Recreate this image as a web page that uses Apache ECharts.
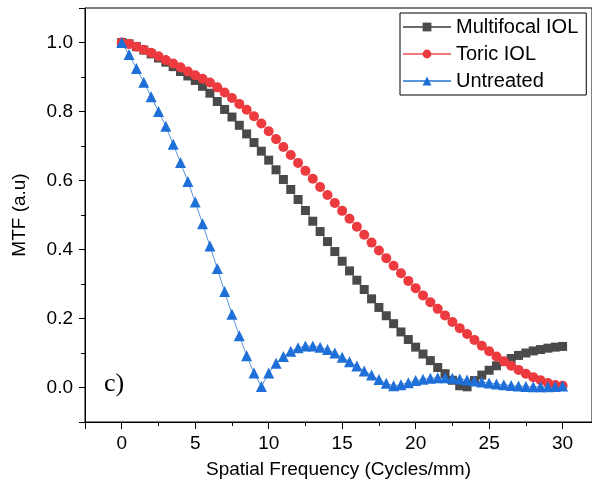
<!DOCTYPE html>
<html>
<head>
<meta charset="utf-8">
<script src="https://cdn.jsdelivr.net/npm/echarts@6/dist/echarts.min.js"></script>
<style>
  html, body { margin: 0; padding: 0; background: #fff; }
  #container { width: 592px; height: 488px; }
</style>
</head>
<body>
<div id="container"></div>
<script>
  // spatial frequency (cycles/mm)
  var freq = [0, 0.5, 1, 1.5, 2, 2.5, 3, 3.5, 4, 4.5, 5, 5.5, 6, 6.5, 7, 7.5, 8, 8.5, 9, 9.5,
    10, 10.5, 11, 11.5, 12, 12.5, 13, 13.5, 14, 14.5, 15, 15.5, 16, 16.5, 17, 17.5, 18, 18.5, 19, 19.5,
    20, 20.5, 21, 21.5, 22, 22.5, 23, 23.5, 24, 24.5, 25, 25.5, 26, 26.5, 27, 27.5, 28, 28.5, 29, 29.5, 30];

  var multifocal = [1.0, 0.996, 0.988, 0.978, 0.967, 0.955, 0.943, 0.93, 0.916, 0.903, 0.89, 0.873, 0.853, 0.829, 0.806, 0.784, 0.76, 0.735, 0.71, 0.685,
    0.659, 0.631, 0.603, 0.574, 0.545, 0.513, 0.482, 0.452, 0.423, 0.394, 0.366, 0.338, 0.311, 0.284, 0.257, 0.232, 0.208, 0.185, 0.161, 0.139,
    0.117, 0.097, 0.078, 0.058, 0.04, 0.021, 0.005, 0.002, 0.02, 0.036, 0.05, 0.063, 0.075, 0.084, 0.093, 0.1, 0.106, 0.11, 0.114, 0.117, 0.119];

  var toric = [1.0, 0.996, 0.988, 0.979, 0.97, 0.96, 0.949, 0.939, 0.928, 0.916, 0.905, 0.895, 0.884, 0.87, 0.855, 0.839, 0.822, 0.805, 0.786, 0.765,
    0.743, 0.72, 0.697, 0.674, 0.651, 0.628, 0.605, 0.581, 0.558, 0.535, 0.512, 0.489, 0.466, 0.443, 0.42, 0.397, 0.375, 0.353, 0.331, 0.309,
    0.288, 0.267, 0.247, 0.228, 0.209, 0.19, 0.172, 0.155, 0.138, 0.121, 0.105, 0.09, 0.076, 0.063, 0.051, 0.04, 0.03, 0.021, 0.013, 0.007, 0.005];

  var untreated = [1.0, 0.965, 0.925, 0.885, 0.843, 0.8, 0.757, 0.705, 0.652, 0.597, 0.538, 0.475, 0.41, 0.345, 0.278, 0.212, 0.15, 0.092, 0.042, 0.003,
    0.042, 0.07, 0.09, 0.105, 0.115, 0.12, 0.12, 0.117, 0.11, 0.1, 0.088, 0.075, 0.062, 0.048, 0.036, 0.023, 0.012, 0.005, 0.008, 0.014,
    0.02, 0.024, 0.027, 0.028, 0.028, 0.027, 0.025, 0.022, 0.019, 0.016, 0.013, 0.01, 0.008, 0.006, 0.004, 0.003, 0.002, 0.002, 0.002, 0.003, 0.004];

  var seriesNames = ['Multifocal IOL', 'Toric IOL', 'Untreated'];

  function pairs(ys) {
    return freq.map(function (x, i) { return [x, ys[i]]; });
  }

  var font = "'Liberation Sans', Arial, sans-serif";
  var dom = document.getElementById('container');
  var myChart = echarts.init(dom, null, {renderer: 'canvas'});

  var option = {
    backgroundColor: '#fff',
    animation: false,
    grid: {
      left: 85, right: -3, top: 8, bottom: 66,
      show: true, borderColor: '#000', borderWidth: 1, backgroundColor: 'transparent'
    },
    legend: {
      orient: 'vertical',
      left: 400, top: 13,
      padding: [4, 8, 4, 2],
      itemGap: 7,
      itemWidth: 48,
      itemHeight: 11,
      borderColor: '#000',
      borderWidth: 1,
      borderRadius: 0,
      textStyle: {fontFamily: font, fontSize: 20, color: '#000'},
      data: seriesNames
    },
    xAxis: {
      type: 'value',
      min: -2.5, max: 32,
      splitNumber: 6,
      name: 'Spatial Frequency (Cycles/mm)',
      nameLocation: 'middle',
      nameGap: 38,
      nameTextStyle: {fontFamily: font, fontSize: 19, color: '#000'},
      axisLine: {onZero: false, lineStyle: {color: '#000', width: 1}},
      axisTick: {show: true, length: 7, lineStyle: {color: '#000'}},
      minorTick: {show: true, splitNumber: 2, length: 4, lineStyle: {color: '#000'}},
      axisLabel: {fontFamily: font, fontSize: 19, color: '#000', margin: 12, showMinLabel: false, showMaxLabel: false},
      splitLine: {show: false}
    },
    yAxis: {
      type: 'value',
      min: -0.1, max: 1.1,
      splitNumber: 6,
      name: 'MTF (a.u)',
      nameLocation: 'middle',
      nameGap: 56,
      nameTextStyle: {fontFamily: font, fontSize: 19, color: '#000'},
      axisLine: {show: true, onZero: false, lineStyle: {color: '#000', width: 1}},
      axisTick: {show: true, length: 6, lineStyle: {color: '#000'}},
      minorTick: {show: true, splitNumber: 2, length: 4, lineStyle: {color: '#000'}},
      axisLabel: {
        fontFamily: font, fontSize: 19, color: '#000', margin: 12,
        showMinLabel: false, showMaxLabel: false,
        formatter: function (v) { return v.toFixed(1); }
      },
      splitLine: {show: false}
    },
    graphic: [{
      type: 'text',
      left: 104, top: 371,
      style: {text: 'c)', font: "26px 'Liberation Serif', 'Times New Roman', serif", fill: '#000'}
    }],
    series: [{
      name: seriesNames[0],
      type: 'line',
      data: pairs(multifocal),
      symbol: 'rect',
      symbolSize: 9,
      showAllSymbol: true,
      itemStyle: {color: '#4a4a4a'},
      lineStyle: {width: 1, color: '#6a6a6a'}
    }, {
      name: seriesNames[1],
      type: 'line',
      data: pairs(toric),
      symbol: 'circle',
      symbolSize: 10,
      showAllSymbol: true,
      itemStyle: {color: '#ec3a3e'},
      lineStyle: {width: 1, color: '#f07a7c'}
    }, {
      name: seriesNames[2],
      type: 'line',
      data: pairs(untreated),
      symbol: 'triangle',
      symbolSize: 11,
      showAllSymbol: true,
      itemStyle: {color: '#1f6fd8'},
      lineStyle: {width: 1, color: '#5a95dc'}
    }]
  };

  myChart.setOption(option, true);
</script>
</body>
</html>
